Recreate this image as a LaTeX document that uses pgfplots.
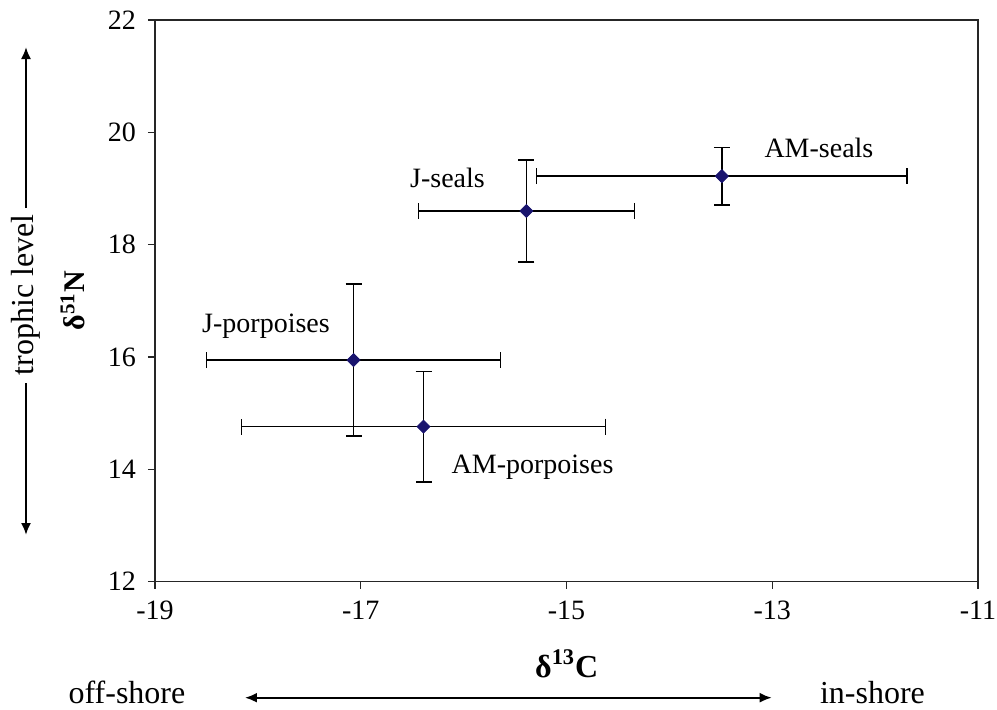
\documentclass[border=0pt]{standalone}
\usepackage{fontspec}
\setmainfont{Liberation Serif}
\usepackage{pgfplots}
\pgfplotsset{compat=1.18}
\usetikzlibrary{arrows.meta}
\definecolor{navy}{RGB}{25,20,110}
\begin{document}
\begin{tikzpicture}[font=\fontsize{14}{17}\selectfont]
\begin{axis}[
  name=ax,
  at={(0,0)}, anchor=south west,
  scale only axis,
  width=411.5pt, height=280.85pt,
  xmin=-19, xmax=-11, ymin=12, ymax=22,
  xtick={-19,-17,-15,-13,-11},
  ytick={12,14,16,18,20,22},
  tick align=outside,
  tick pos=left,
  major tick length=3.5pt,
  axis line style={line width=0.75pt, black!85},
  every tick/.style={line width=0.75pt, black!85},
  /pgf/number format/assume math mode=true,
  tick label style={font=\fontsize{14}{17}\selectfont},
  yticklabel style={xshift=-2.5pt},
  xticklabel style={yshift=-2.5pt},
  clip=false,
]
\addplot[
  only marks,
  mark=square*,
  mark size=2.3pt,
  mark options={rotate=45, fill=navy, draw=navy},
  error bars/.cd,
    x dir=both, x explicit,
    y dir=both, y explicit,
    error mark options={rotate=90, line width=0.8pt, mark size=4pt, black},
    error bar style={line width=0.8pt, black},
] coordinates {
  (-13.49,19.22) +- (1.80,0.51)
  (-15.39,18.60) +- (1.05,0.91)
  (-17.07,15.945) +- (1.43,1.355)
  (-16.39,14.76) +- (1.77,0.98)
};
\node[anchor=base] at (axis cs:-16.157,19.01) {J-seals};
\node[anchor=base] at (axis cs:-12.546,19.56) {AM-seals};
\node[anchor=base] at (axis cs:-17.921,16.43) {J-porpoises};
\node[anchor=base] at (axis cs:-15.33,13.935) {AM-porpoises};
\end{axis}
% y label
\node[rotate=90,font=\fontsize{15}{18}\selectfont] at (-41pt,140.4pt) {\textbf{δ\textsuperscript{51}N}};
% x label
\node[font=\fontsize{16}{19}\selectfont] at (205.85pt,-41.15pt) {\textbf{δ\textsuperscript{13}C}};
% trophic level
\node[rotate=90,font=\fontsize{16}{19}\selectfont] at (-64.5pt,143.35pt) {trophic level};
\draw[line width=1pt,-{Latex[length=6pt,width=5pt]}] (-64.5pt,186.85pt) -- (-64.5pt,267.35pt);
\draw[line width=1pt,-{Latex[length=6pt,width=5pt]}] (-64.5pt,99.35pt) -- (-64.5pt,23.35pt);
% shore arrow
\draw[line width=1pt,{Latex[length=6pt,width=5pt]}-{Latex[length=6pt,width=5pt]}] (45pt,-58pt) -- (308.35pt,-58pt);
\node[anchor=base,font=\fontsize{16}{19}\selectfont] at (-14pt,-60.65pt) {off-shore};
\node[anchor=base,font=\fontsize{16}{19}\selectfont] at (358.75pt,-60.65pt) {in-shore};
\pgfresetboundingbox
\useasboundingbox (-77.5pt,-63.65pt) rectangle (421pt,290.85pt);
\end{tikzpicture}
\end{document}
